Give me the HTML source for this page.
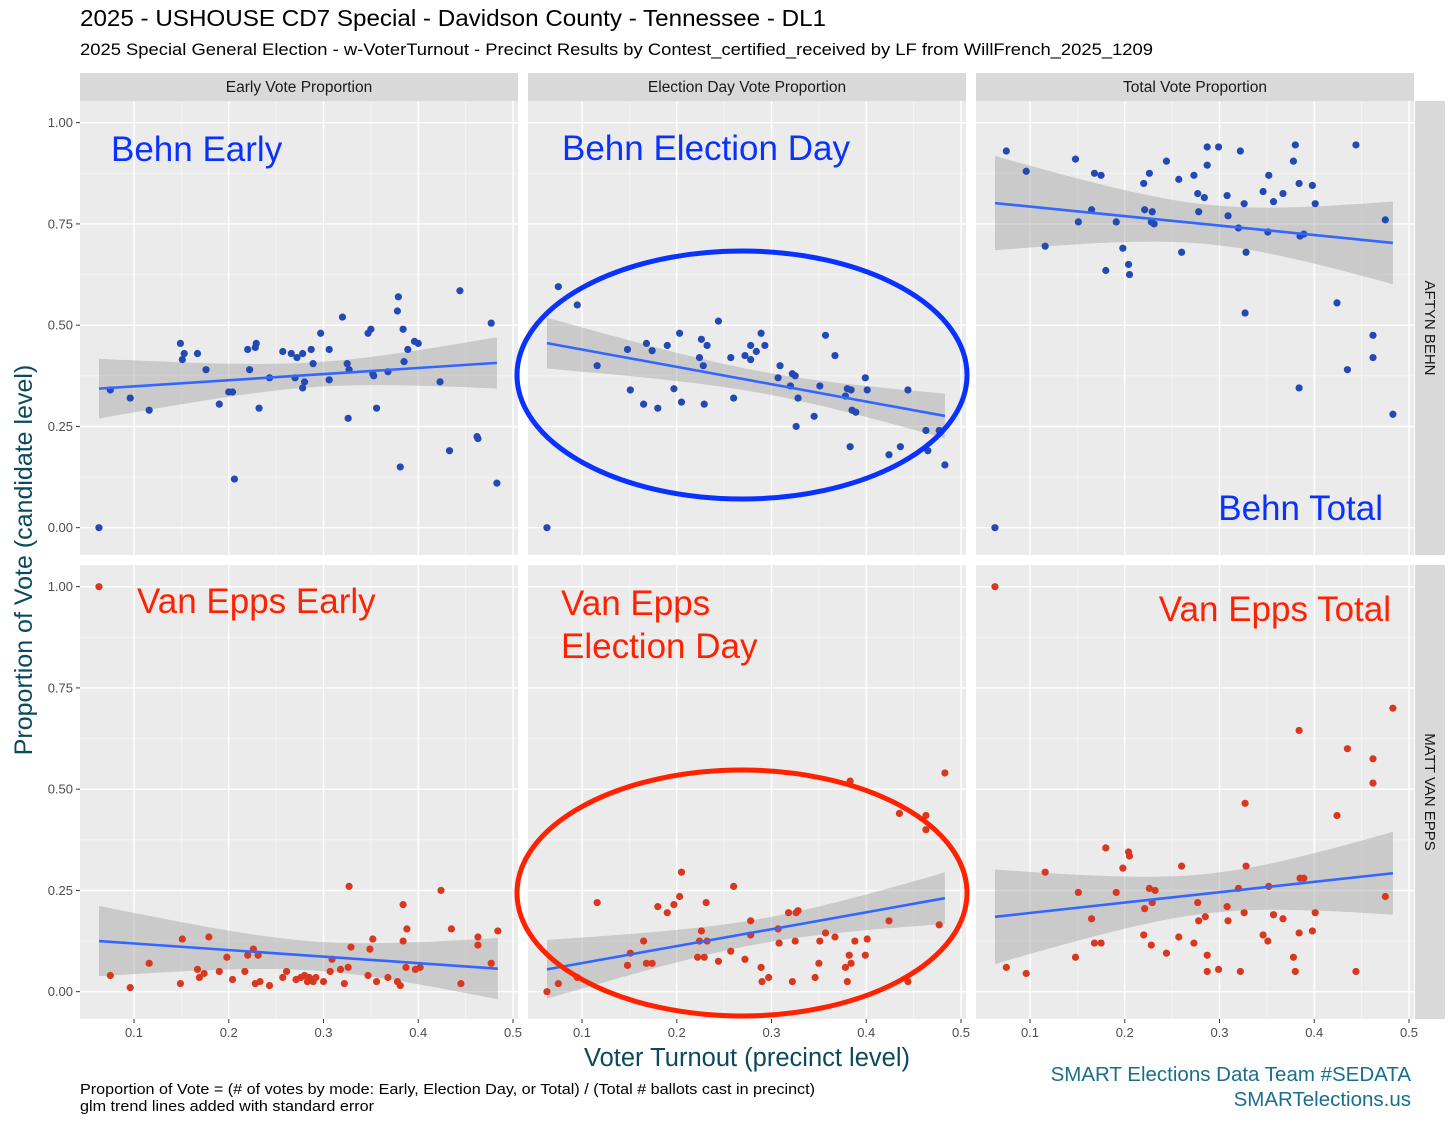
<!DOCTYPE html>
<html><head><meta charset="utf-8">
<style>
body{margin:0;background:#fff;}
svg{display:block;font-family:"Liberation Sans",Arial,sans-serif;}
</style></head>
<body>
<svg id="chart" width="1456" height="1125" viewBox="0 0 1456 1125">
<text x="80" y="26" font-size="23" textLength="746" lengthAdjust="spacingAndGlyphs" fill="#000">2025 - USHOUSE CD7 Special - Davidson County - Tennessee - DL1</text>
<text x="80" y="55" font-size="17" textLength="1073" lengthAdjust="spacingAndGlyphs" fill="#000">2025 Special General Election - w-VoterTurnout - Precinct Results by Contest_certified_received by LF from WillFrench_2025_1209</text>
<text transform="translate(32,560) rotate(-90)" text-anchor="middle" font-size="25" fill="#0b4a5e">Proportion of Vote (candidate level)</text>
<text x="747" y="1066" text-anchor="middle" font-size="25.5" fill="#0b4a5e">Voter Turnout (precinct level)</text>
<text x="80" y="1094" font-size="15" textLength="735" lengthAdjust="spacingAndGlyphs" fill="#000">Proportion of Vote = (# of votes by mode: Early, Election Day, or Total) / (Total # ballots cast in precinct)</text>
<text x="80" y="1111" font-size="15" textLength="294" lengthAdjust="spacingAndGlyphs" fill="#000">glm trend lines added with standard error</text>
<text x="1411" y="1081" text-anchor="end" font-size="20.5" fill="#1a6e8e">SMART Elections Data Team #SEDATA</text>
<text x="1411" y="1106" text-anchor="end" font-size="20.5" fill="#1a6e8e">SMARTelections.us</text>
<g id="panels"></g>
<g id="annot"></g>
</svg>
<script>
const columnLabels = ["Early Vote Proportion","Election Day Vote Proportion","Total Vote Proportion"];
const rowLabels = ["AFTYN BEHN","MATT VAN EPPS"];
const xTicks = [0.1,0.2,0.3,0.4,0.5];
const xTickLabels = ["0.1","0.2","0.3","0.4","0.5"];
const yTicks = [0,0.25,0.5,0.75,1];
const yTickLabels = ["0.00","0.25","0.50","0.75","1.00"];

const behnEarlyX = [0.063,0.075,0.096,0.116,0.149,0.151,0.153,0.167,0.176,0.19,0.2,0.204,0.22,0.222,0.228,0.229,0.243,0.257,0.266,0.272,0.278,0.278,0.28,0.287,0.289,0.297,0.306,0.306,0.32,0.325,0.326,0.327,0.347,0.35,0.352,0.356,0.368,0.378,0.379,0.381,0.384,0.385,0.389,0.396,0.4,0.423,0.433,0.444,0.462,0.463,0.477,0.483,0.206,0.232,0.27,0.353];
const behnEarlyY = [0.00,0.34,0.32,0.29,0.455,0.415,0.43,0.43,0.39,0.305,0.335,0.335,0.44,0.39,0.445,0.455,0.37,0.435,0.43,0.42,0.43,0.345,0.36,0.44,0.405,0.48,0.44,0.365,0.52,0.405,0.27,0.39,0.48,0.49,0.38,0.295,0.385,0.535,0.57,0.15,0.49,0.41,0.44,0.46,0.455,0.36,0.19,0.585,0.225,0.22,0.505,0.11,0.12,0.295,0.37,0.375];

const behnDayX = [0.063,0.075,0.095,0.116,0.148,0.151,0.165,0.168,0.174,0.18,0.19,0.197,0.203,0.205,0.224,0.226,0.228,0.229,0.232,0.244,0.257,0.26,0.272,0.278,0.278,0.284,0.289,0.293,0.307,0.309,0.32,0.322,0.325,0.328,0.326,0.345,0.351,0.357,0.367,0.378,0.38,0.384,0.383,0.385,0.389,0.399,0.401,0.424,0.436,0.444,0.463,0.465,0.477,0.483];
const behnDayY = [0,0.595,0.55,0.40,0.44,0.34,0.305,0.455,0.437,0.295,0.45,0.343,0.48,0.31,0.42,0.465,0.40,0.305,0.45,0.51,0.42,0.32,0.425,0.45,0.415,0.435,0.48,0.45,0.37,0.40,0.35,0.38,0.375,0.32,0.25,0.275,0.35,0.475,0.425,0.325,0.343,0.34,0.20,0.29,0.285,0.37,0.34,0.18,0.20,0.34,0.24,0.19,0.24,0.155];

const behnTotalX = [0.063,0.075,0.096,0.116,0.148,0.151,0.165,0.168,0.175,0.18,0.191,0.198,0.204,0.205,0.22,0.221,0.226,0.228,0.229,0.231,0.244,0.257,0.26,0.273,0.277,0.278,0.284,0.287,0.287,0.299,0.308,0.309,0.32,0.322,0.326,0.327,0.328,0.346,0.351,0.352,0.357,0.367,0.378,0.38,0.384,0.384,0.385,0.389,0.398,0.401,0.424,0.435,0.444,0.462,0.462,0.475,0.483];
const behnTotalY = [0,0.93,0.88,0.695,0.91,0.755,0.785,0.875,0.87,0.635,0.755,0.69,0.65,0.625,0.85,0.785,0.875,0.755,0.78,0.75,0.905,0.86,0.68,0.87,0.825,0.78,0.815,0.94,0.895,0.94,0.82,0.77,0.74,0.93,0.80,0.53,0.68,0.83,0.73,0.87,0.805,0.825,0.905,0.945,0.85,0.345,0.72,0.725,0.845,0.80,0.555,0.39,0.945,0.475,0.42,0.76,0.28];

const vanEarlyX = [0.063,0.075,0.096,0.116,0.149,0.151,0.167,0.169,0.174,0.179,0.19,0.198,0.204,0.217,0.22,0.226,0.228,0.231,0.233,0.243,0.257,0.261,0.271,0.276,0.28,0.283,0.285,0.289,0.292,0.3,0.307,0.309,0.318,0.322,0.326,0.327,0.329,0.347,0.349,0.352,0.356,0.368,0.378,0.381,0.384,0.384,0.387,0.388,0.397,0.402,0.424,0.435,0.445,0.463,0.463,0.477,0.484];
const vanEarlyY = [1.0,0.04,0.01,0.07,0.02,0.13,0.055,0.035,0.045,0.135,0.05,0.085,0.03,0.05,0.09,0.105,0.02,0.09,0.025,0.015,0.035,0.05,0.03,0.035,0.04,0.025,0.035,0.025,0.035,0.025,0.05,0.08,0.055,0.02,0.06,0.26,0.11,0.04,0.105,0.13,0.025,0.035,0.025,0.015,0.215,0.125,0.06,0.155,0.055,0.06,0.25,0.155,0.02,0.115,0.135,0.07,0.15];

const vanDayX = [0.063,0.075,0.095,0.116,0.148,0.151,0.165,0.168,0.174,0.18,0.19,0.197,0.203,0.205,0.222,0.224,0.226,0.229,0.231,0.232,0.244,0.257,0.26,0.272,0.278,0.278,0.289,0.29,0.297,0.307,0.308,0.318,0.322,0.325,0.326,0.328,0.346,0.35,0.351,0.357,0.367,0.378,0.38,0.382,0.383,0.384,0.388,0.399,0.401,0.424,0.435,0.444,0.463,0.463,0.477,0.483];
const vanDayY = [0,0.02,0.035,0.22,0.065,0.095,0.125,0.07,0.07,0.21,0.195,0.215,0.235,0.295,0.085,0.125,0.15,0.085,0.22,0.125,0.075,0.1,0.26,0.08,0.175,0.14,0.06,0.025,0.035,0.155,0.12,0.195,0.025,0.125,0.195,0.2,0.035,0.07,0.125,0.145,0.135,0.06,0.025,0.09,0.52,0.07,0.125,0.09,0.13,0.175,0.44,0.025,0.435,0.4,0.165,0.54];

const vanTotalX = [0.063,0.075,0.096,0.116,0.148,0.151,0.165,0.168,0.175,0.18,0.191,0.198,0.204,0.205,0.22,0.221,0.226,0.228,0.229,0.232,0.244,0.257,0.26,0.273,0.277,0.278,0.285,0.287,0.287,0.299,0.308,0.309,0.32,0.322,0.326,0.327,0.328,0.346,0.351,0.352,0.357,0.367,0.378,0.38,0.384,0.384,0.385,0.389,0.398,0.401,0.424,0.435,0.444,0.462,0.462,0.475,0.483];
const vanTotalY = [1.0,0.06,0.045,0.295,0.085,0.245,0.18,0.12,0.12,0.355,0.245,0.305,0.345,0.335,0.14,0.205,0.255,0.115,0.22,0.25,0.095,0.135,0.31,0.12,0.22,0.175,0.185,0.05,0.09,0.055,0.21,0.175,0.255,0.05,0.195,0.465,0.31,0.14,0.125,0.26,0.19,0.18,0.085,0.05,0.645,0.145,0.28,0.28,0.15,0.195,0.435,0.6,0.05,0.575,0.515,0.235,0.70];

const NS="http://www.w3.org/2000/svg";
function mk(tag,attrs,parent){const e=document.createElementNS(NS,tag);for(const k in attrs)e.setAttribute(k,attrs[k]);parent.appendChild(e);return e;}
const panelsG=document.getElementById('panels');
const colLeft=[80,528,976], rowTop=[101,565], PW=438, PH=454;
const XMIN=0.0430, YMAX=1.0535;
function sx(c,v){return colLeft[c]+(v-XMIN)*947.5;}
function sy(r,v){return rowTop[r]+(YMAX-v)*405;}

const panels=[
 [0,0,behnEarlyX,behnEarlyY,'#2349b5'],[0,1,behnDayX,behnDayY,'#2349b5'],[0,2,behnTotalX,behnTotalY,'#2349b5'],
 [1,0,vanEarlyX,vanEarlyY,'#d8381f'],[1,1,vanDayX,vanDayY,'#d8381f'],[1,2,vanTotalX,vanTotalY,'#d8381f']];

columnLabels.forEach((lab,c)=>{
 const s=mk('rect',{x:colLeft[c],y:73,width:PW,height:28,fill:'#d9d9d9'},panelsG);
 
 
 const t=mk('text',{x:colLeft[c]+PW/2,y:92,'text-anchor':'middle','font-size':15.5,fill:'#1a1a1a'},panelsG);
 t.textContent=lab;
 
 
});
rowLabels.forEach((lab,r)=>{
 const s=mk('rect',{x:1415,y:rowTop[r],width:30,height:PH,fill:'#d9d9d9'},panelsG);
 
 
 const t=mk('text',{transform:`translate(1425,${rowTop[r]+PH/2}) rotate(90)`,'text-anchor':'middle','font-size':15,fill:'#1a1a1a'},panelsG);
 t.textContent=lab;
 
 
});

panels.forEach(([r,c,X,Y,col])=>{
 const g=mk('g',{},panelsG);
 
 
 const L=colLeft[c],T=rowTop[r];
 mk('rect',{x:L,y:T,width:PW,height:PH,fill:'#ebebeb'},g);
 for(let i=0;i<yTicks.length-1;i++){const v=(yTicks[i]+yTicks[i+1])/2;mk('line',{x1:L,x2:L+PW,y1:sy(r,v),y2:sy(r,v),stroke:'#f5f5f5','stroke-width':0.8},g);}
 for(let i=0;i<xTicks.length-1;i++){const v=(xTicks[i]+xTicks[i+1])/2;mk('line',{x1:sx(c,v),x2:sx(c,v),y1:T,y2:T+PH,stroke:'#f5f5f5','stroke-width':0.8},g);}
 yTicks.forEach(v=>mk('line',{x1:L,x2:L+PW,y1:sy(r,v),y2:sy(r,v),stroke:'#fff','stroke-width':1.4},g));
 xTicks.forEach(v=>mk('line',{x1:sx(c,v),x2:sx(c,v),y1:T,y2:T+PH,stroke:'#fff','stroke-width':1.4},g));
 const n=X.length;let mx=0,my=0;for(let i=0;i<n;i++){mx+=X[i];my+=Y[i];}mx/=n;my/=n;
 let sxx=0,sxy=0;for(let i=0;i<n;i++){sxx+=(X[i]-mx)**2;sxy+=(X[i]-mx)*(Y[i]-my);}
 const b=sxy/sxx,a=my-b*mx;let sse=0;for(let i=0;i<n;i++){sse+=(Y[i]-a-b*X[i])**2;}
 const s=Math.sqrt(sse/(n-2));const x0=Math.min(...X),x1=Math.max(...X);
 const up=[],lo=[];
 for(let k=0;k<=40;k++){const xv=x0+(x1-x0)*k/40;const f=a+b*xv;const se=s*Math.sqrt(1/n+(xv-mx)**2/sxx)*2.0;
  up.push(sx(c,xv).toFixed(1)+','+sy(r,f+se).toFixed(1));lo.unshift(sx(c,xv).toFixed(1)+','+sy(r,f-se).toFixed(1));}
 const rib=mk('polygon',{points:up.concat(lo).join(' '),fill:'#999','fill-opacity':0.4},g);
 
 
 X.forEach((xv,i)=>{const p=mk('circle',{cx:sx(c,xv),cy:sy(r,Y[i]),r:3.6,fill:col},g);
  
  });
 const ln=mk('line',{x1:sx(c,x0),y1:sy(r,a+b*x0),x2:sx(c,x1),y2:sy(r,a+b*x1),stroke:'#3366ff','stroke-width':2.6},g);
 
 
 if(c===0){yTicks.forEach((v,i)=>{mk('line',{x1:L-4,x2:L,y1:sy(r,v),y2:sy(r,v),stroke:'#333','stroke-width':1},g);
  const t=mk('text',{x:L-7,y:sy(r,v)+4.5,'text-anchor':'end','font-size':13,fill:'#4d4d4d'},g);t.textContent=yTickLabels[i];
  
  });}
 if(r===1){xTicks.forEach((v,i)=>{mk('line',{x1:sx(c,v),x2:sx(c,v),y1:T+PH,y2:T+PH+4,stroke:'#333','stroke-width':1},g);
  const t=mk('text',{x:sx(c,v),y:T+PH+18,'text-anchor':'middle','font-size':13,fill:'#4d4d4d'},g);t.textContent=xTickLabels[i];
  
  });}
});

const an=document.getElementById('annot');
const notes=[[111,161,'Behn Early','#0a32ff','start','behn-early-label'],[562,160,'Behn Election Day','#0a32ff','start','behn-election-day-label'],
 [1383,520,'Behn Total','#0a32ff','end','behn-total-label'],[137,613,'Van Epps Early','#ff2200','start','van-epps-early-label'],
 [561,615,'Van Epps','#ff2200','start','van-epps-election-day-label'],[561,658,'Election Day','#ff2200','start','van-epps-election-day-label-2'],
 [1391,621,'Van Epps Total','#ff2200','end','van-epps-total-label']];
notes.forEach(([x,y,t,col,anc,nm])=>{const e=mk('text',{x:x,y:y,'font-size':35,fill:col,'text-anchor':anc},an);e.textContent=t;
 
 });
const e1=mk('ellipse',{cx:742,cy:375,rx:225,ry:124,fill:'none',stroke:'#0a32ff','stroke-width':5},an);


const e2=mk('ellipse',{cx:742,cy:893,rx:225,ry:123,fill:'none',stroke:'#ff2200','stroke-width':5},an);


</script>
</body></html>
